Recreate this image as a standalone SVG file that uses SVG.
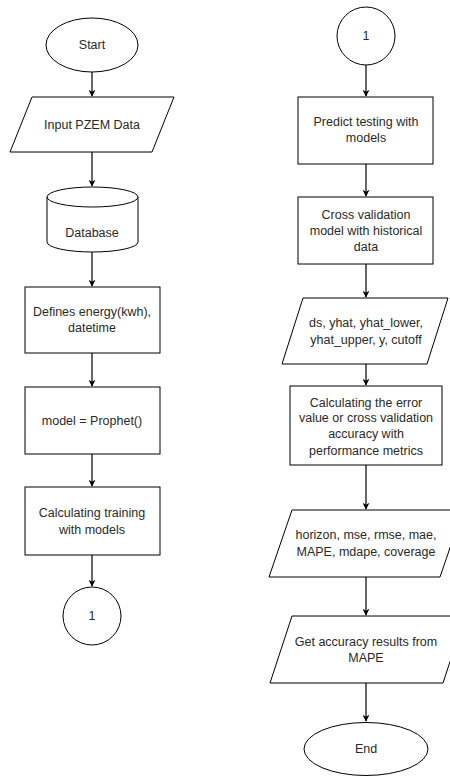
<svg xmlns="http://www.w3.org/2000/svg" width="450" height="776" viewBox="0 0 450 776">
<style>
.s{fill:#fff;stroke:#000;stroke-width:1}
.t{font-family:"Liberation Sans",Arial,sans-serif;font-size:12.5px;fill:#2a2a2a;text-anchor:middle}
.c{fill:none;stroke:#000;stroke-width:1.2}
</style>
<defs>
<marker id="ah" viewBox="0 0 10 10" refX="9" refY="5" markerWidth="7" markerHeight="7" markerUnits="userSpaceOnUse" orient="auto">
<path d="M0,0 L10,5 L0,10 L3,5 Z" fill="#000"/>
</marker>
</defs>
<rect width="450" height="776" fill="#fff"/>
<g id="connectors">
<path class="c" d="M92,72 V96" marker-end="url(#ah)"/>
<path class="c" d="M92,152 V186" marker-end="url(#ah)"/>
<path class="c" d="M92,252 V286" marker-end="url(#ah)"/>
<path class="c" d="M92,353 V386" marker-end="url(#ah)"/>
<path class="c" d="M92,454 V486" marker-end="url(#ah)"/>
<path class="c" d="M92,555 V586" marker-end="url(#ah)"/>
<path class="c" d="M366,65 V96" marker-end="url(#ah)"/>
<path class="c" d="M366,164 V196" marker-end="url(#ah)"/>
<path class="c" d="M366,264 V297" marker-end="url(#ah)"/>
<path class="c" d="M366,364 V385" marker-end="url(#ah)"/>
<path class="c" d="M366,465 V509" marker-end="url(#ah)"/>
<path class="c" d="M366,577 V615" marker-end="url(#ah)"/>
<path class="c" d="M366,683 V721" marker-end="url(#ah)"/>
</g>
<g id="start">
<ellipse class="s" cx="92" cy="45" rx="46" ry="27"/>
<text class="t" x="92" y="49">Start</text>
</g>
<g id="input">
<polygon class="s" points="32,97 174,97 152,152 10,152"/>
<text class="t" x="92" y="129">Input PZEM Data</text>
</g>
<g id="database">
<path class="s" d="M47,197 A45.5,10 0 0 1 138,197 V242 A45.5,10 0 0 1 47,242 Z"/>
<path class="s" fill="none" d="M47,197 A45.5,10 0 0 0 138,197"/>
<text class="t" x="92" y="237">Database</text>
</g>
<g id="defines">
<rect class="s" x="25" y="287" width="135" height="66"/>
<text class="t" x="92" y="316">Defines energy(kwh),</text>
<text class="t" x="92" y="332">datetime</text>
</g>
<g id="model">
<rect class="s" x="25" y="387" width="135" height="67"/>
<text class="t" x="92" y="425">model = Prophet()</text>
</g>
<g id="training">
<rect class="s" x="25" y="487" width="135" height="68"/>
<text class="t" x="92" y="517">Calculating training</text>
<text class="t" x="92" y="534">with models</text>
</g>
<g id="conn1a">
<circle class="s" cx="92" cy="616" r="29"/>
<text class="t" x="92" y="620">1</text>
</g>
<g id="conn1b">
<circle class="s" cx="366" cy="36" r="29"/>
<text class="t" x="366" y="40">1</text>
</g>
<g id="predict">
<rect class="s" x="298" y="97" width="135" height="67"/>
<text class="t" x="366" y="126">Predict testing with</text>
<text class="t" x="366" y="142">models</text>
</g>
<g id="crossval">
<rect class="s" x="298" y="197" width="135" height="67"/>
<text class="t" x="366" y="219">Cross validation</text>
<text class="t" x="366" y="235">model with historical</text>
<text class="t" x="366" y="251">data</text>
</g>
<g id="dsout">
<polygon class="s" points="303,298 448,298 427,364 282,364"/>
<text class="t" x="366" y="327">ds, yhat, yhat_lower,</text>
<text class="t" x="366" y="344">yhat_upper, y, cutoff</text>
</g>
<g id="calcerror">
<rect class="s" x="290" y="386" width="152" height="79"/>
<text class="t" x="366" y="407">Calculating the error</text>
<text class="t" x="366" y="422">value or cross validation</text>
<text class="t" x="366" y="438">accuracy with</text>
<text class="t" x="366" y="455">performance metrics</text>
</g>
<g id="metrics">
<polygon class="s" points="292,510 463,510 440,577 269,577"/>
<text class="t" x="366" y="539">horizon, mse, rmse, mae,</text>
<text class="t" x="366" y="556">MAPE, mdape, coverage</text>
</g>
<g id="getacc">
<polygon class="s" points="292,616 465,616 443,683 270,683"/>
<text class="t" x="366" y="646">Get accuracy results from</text>
<text class="t" x="366" y="662">MAPE</text>
</g>
<g id="end">
<ellipse class="s" cx="366" cy="749" rx="62" ry="26.5"/>
<text class="t" x="366" y="753">End</text>
</g>
</svg>
